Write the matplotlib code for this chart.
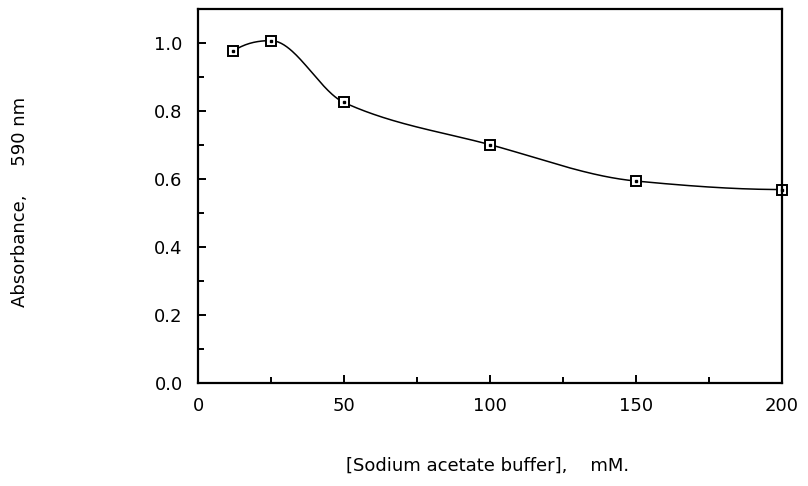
import numpy as np
import matplotlib
matplotlib.use("Agg")
import matplotlib.pyplot as plt
from matplotlib.ticker import MultipleLocator

# Data
conc = [12, 25, 50, 100, 150, 200]
absorb = [0.976, 1.007, 0.825, 0.701, 0.594, 0.569]
xticks = [0, 50, 100, 150, 200]
yticks = [0.0, 0.2, 0.4, 0.6, 0.8, 1.0]


def pchip(x, y, xs):
    x = np.asarray(x, float); y = np.asarray(y, float)
    h = np.diff(x); d = np.diff(y) / h
    n = len(x)
    m = np.zeros(n)
    for k in range(1, n - 1):
        if d[k - 1] * d[k] > 0:
            w1 = 2 * h[k] + h[k - 1]; w2 = h[k] + 2 * h[k - 1]
            m[k] = (w1 + w2) / (w1 / d[k - 1] + w2 / d[k])
        else:
            m[k] = 0.0
    m[0] = ((2 * h[0] + h[1]) * d[0] - h[0] * d[1]) / (h[0] + h[1])
    if np.sign(m[0]) != np.sign(d[0]):
        m[0] = 0
    m[-1] = ((2 * h[-1] + h[-2]) * d[-1] - h[-1] * d[-2]) / (h[-1] + h[-2])
    if np.sign(m[-1]) != np.sign(d[-1]):
        m[-1] = 0
    idx = np.clip(np.searchsorted(x, xs) - 1, 0, n - 2)
    t = (xs - x[idx]) / h[idx]
    h00 = 2 * t**3 - 3 * t**2 + 1; h10 = t**3 - 2 * t**2 + t
    h01 = -2 * t**3 + 3 * t**2; h11 = t**3 - t**2
    return h00 * y[idx] + h10 * h[idx] * m[idx] + h01 * y[idx + 1] + h11 * h[idx] * m[idx + 1]


fs = 13
fig = plt.figure(figsize=(8.08, 4.86), dpi=100)
ax = fig.add_axes([198 / 808, 1 - 383 / 486, (782 - 198) / 808, (383 - 9) / 486])

xs = np.linspace(conc[0], conc[-1], 400)
ax.plot(xs, pchip(conc, absorb, xs), color="black", lw=1.1)
ax.plot(conc, absorb, linestyle="none", marker="s", ms=7, mfc="white",
        mec="black", mew=1.4, clip_on=False)
ax.plot(conc, absorb, linestyle="none", marker="s", ms=1.5, mfc="black",
        mec="black", clip_on=False)

ax.set_xlim(0, 200)
ax.set_ylim(0, 1.1)
ax.set_xticks(xticks)
ax.set_yticks(yticks)
ax.set_xticklabels([str(v) for v in xticks])
ax.set_yticklabels([f"{v:.1f}" for v in yticks])
ax.xaxis.set_minor_locator(MultipleLocator(25))
ax.yaxis.set_minor_locator(MultipleLocator(0.1))
ax.tick_params(which="both", direction="in", width=1.4, labelsize=fs)
ax.tick_params(which="major", length=6)
ax.tick_params(which="minor", length=4)
ax.tick_params(axis="y", pad=11)
ax.tick_params(axis="x", pad=10)
for s in ax.spines.values():
    s.set_linewidth(1.6)

fig.text(20 / 808, 1 - 202 / 486, "Absorbance,     590 nm", rotation=90,
         ha="center", va="center", fontsize=fs)
fig.text(488 / 808, 1 - 466 / 486, "[Sodium acetate buffer],    mM.",
         ha="center", va="center", fontsize=fs)

fig.savefig("out.png", dpi=100)
